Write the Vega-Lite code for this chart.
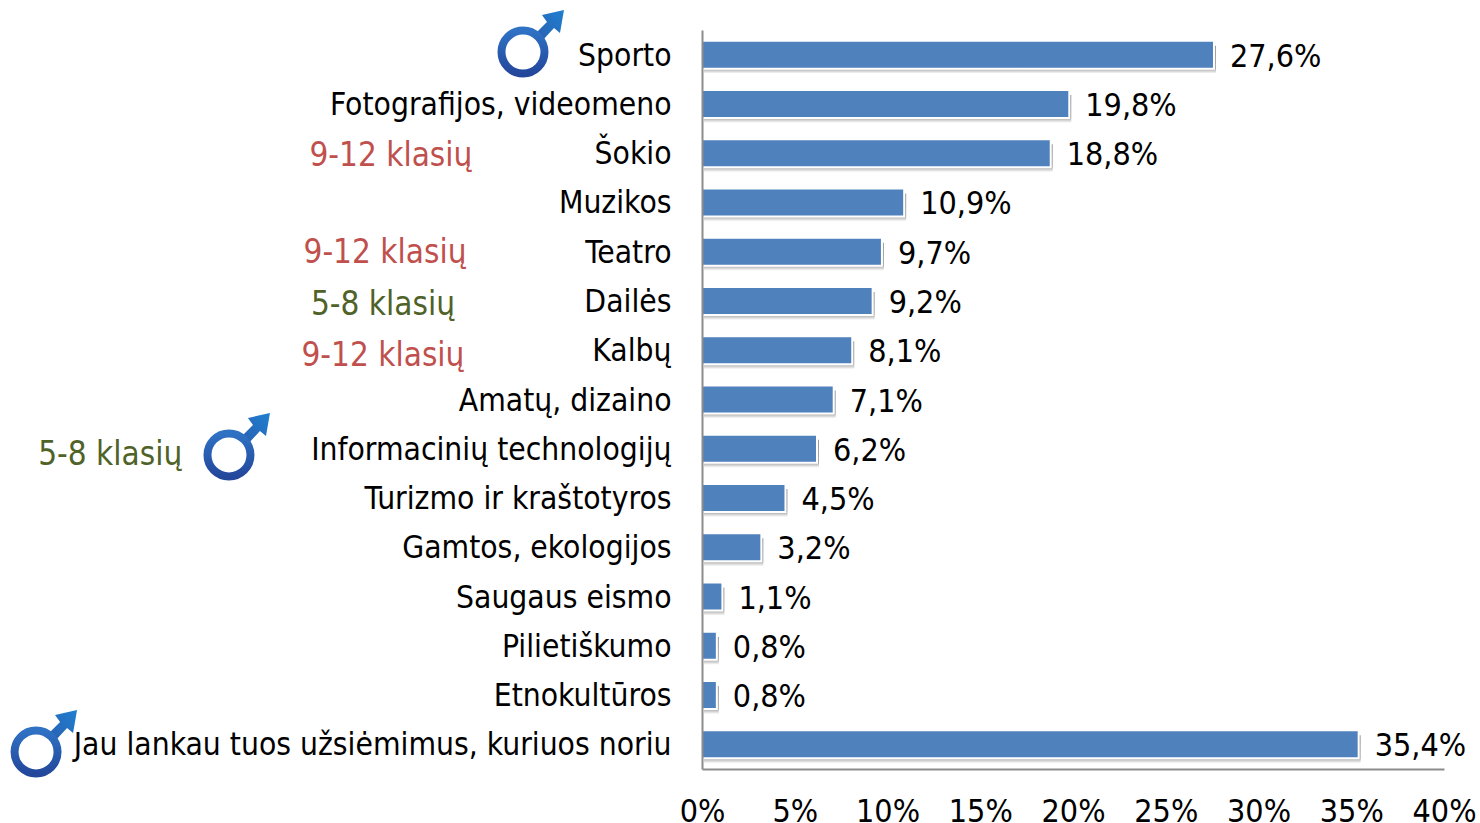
{
"$schema":"https://vega.github.io/schema/vega-lite/v6.json",
"width":742,"height":739,
"autosize":{"type":"none"},
"padding":{"left":702,"top":30,"right":36,"bottom":54},
"background":"white",
"config":{"view":{"stroke":null},"font":"DejaVu Sans Condensed"},
"datasets":{
"bars":[
{"name":"Sporto","value":27.6,"label":"27,6%"},
{"name":"Fotografijos, videomeno","value":19.8,"label":"19,8%"},
{"name":"Šokio","value":18.8,"label":"18,8%"},
{"name":"Muzikos","value":10.9,"label":"10,9%"},
{"name":"Teatro","value":9.7,"label":"9,7%"},
{"name":"Dailės\u00a0","value":9.2,"label":"9,2%"},
{"name":"Kalbų","value":8.1,"label":"8,1%"},
{"name":"Amatų, dizaino","value":7.1,"label":"7,1%"},
{"name":"Informacinių technologijų","value":6.2,"label":"6,2%"},
{"name":"Turizmo ir kraštotyros","value":4.5,"label":"4,5%"},
{"name":"Gamtos, ekologijos","value":3.2,"label":"3,2%"},
{"name":"Saugaus eismo","value":1.1,"label":"1,1%"},
{"name":"Pilietiškumo","value":0.8,"label":"0,8%"},
{"name":"Etnokultūros","value":0.8,"label":"0,8%"},
{"name":"Jau lankau tuos užsiėmimus, kuriuos noriu","value":35.4,"label":"35,4%"}
],
"notes":[
{"text":"9-12 klasių","x":-16.77,"pos":2.517,"group":"9-12"},
{"text":"9-12 klasių","x":-17.09,"pos":4.485,"group":"9-12"},
{"text":"5-8 klasių","x":-17.2,"pos":5.541,"group":"5-8"},
{"text":"9-12 klasių","x":-17.2,"pos":6.576,"group":"9-12"},
{"text":"5-8 klasių","x":-31.9,"pos":8.585,"group":"5-8"}
],
"males":[
{"x":-9.65,"pos":0.447},
{"x":-25.5,"pos":8.626},
{"x":-35.9,"pos":14.654}
]
},
"resolve":{"scale":{"y":"independent"}},
"layer":[
{"data":{"name":"bars"},
 "mark":{"type":"bar","size":28,"yOffset":5,"xOffset":2,"fill":{"gradient":"linear","x1":0,"y1":0,"x2":0,"y2":1,"stops":[{"offset":0,"color":"#999999"},{"offset":0.82,"color":"#a8a8a8"},{"offset":1,"color":"#ffffff"}]}},
 "encoding":{
  "x":{"field":"value","type":"quantitative","scale":{"domain":[0,40]},
   "axis":{"title":null,"values":[0,5,10,15,20,25,30,35,40],"labelExpr":"datum.value+'%'","grid":false,"ticks":false,"domainColor":"#8c8c8c","domainWidth":2,"labelFontSize":32,"labelColor":"#000000","labelPadding":27,"labelOverlap":false,"labelBound":false,"labelFlush":false}},
  "y":{"field":"name","type":"nominal","sort":null,"scale":{"domain":["Sporto","Fotografijos, videomeno","Šokio","Muzikos","Teatro","Dailės\u00a0","Kalbų","Amatų, dizaino","Informacinių technologijų","Turizmo ir kraštotyros","Gamtos, ekologijos","Saugaus eismo","Pilietiškumo","Etnokultūros","Jau lankau tuos užsiėmimus, kuriuos noriu"]},"axis":null}
 }},
{"data":{"name":"bars"},
 "mark":{"type":"bar","size":28,"fill":"#4f81bd","stroke":"white","strokeWidth":2},
 "encoding":{
  "x":{"field":"value","type":"quantitative"},
  "y":{"field":"name","type":"nominal","sort":null,"scale":{"domain":["Sporto","Fotografijos, videomeno","Šokio","Muzikos","Teatro","Dailės\u00a0","Kalbų","Amatų, dizaino","Informacinių technologijų","Turizmo ir kraštotyros","Gamtos, ekologijos","Saugaus eismo","Pilietiškumo","Etnokultūros","Jau lankau tuos užsiėmimus, kuriuos noriu"]},
   "axis":{"title":null,"ticks":false,"domainColor":"#8c8c8c","domainWidth":2,"labelFontSize":31.5,"labelColor":"#000000","labelPadding":31,"labelOffset":2,"labelLimit":0,"labelOverlap":false,"zindex":1}}
 }},
{"data":{"name":"bars"},
 "mark":{"type":"text","align":"left","baseline":"middle","dx":16,"dy":2,"fontSize":32,"color":"#000000"},
 "encoding":{
  "x":{"field":"value","type":"quantitative"},
  "y":{"field":"name","type":"nominal","sort":null,"scale":{"domain":["Sporto","Fotografijos, videomeno","Šokio","Muzikos","Teatro","Dailės\u00a0","Kalbų","Amatų, dizaino","Informacinių technologijų","Turizmo ir kraštotyros","Gamtos, ekologijos","Saugaus eismo","Pilietiškumo","Etnokultūros","Jau lankau tuos užsiėmimus, kuriuos noriu"]},"axis":null},
  "text":{"field":"label"}
 }},
{"data":{"name":"notes"},
 "mark":{"type":"text","align":"center","baseline":"middle","dy":2,"fontSize":33},
 "encoding":{
  "x":{"field":"x","type":"quantitative"},
  "y":{"field":"pos","type":"quantitative","scale":{"domain":[0,15],"reverse":true},"axis":null},
  "text":{"field":"text"},
  "color":{"field":"group","type":"nominal","scale":{"domain":["9-12","5-8"],"range":["#c0504d","#4f6228"]},"legend":null}
 }},
{"data":{"name":"males"},
 "mark":{"type":"point","filled":true,"size":40000,"strokeWidth":0,"shape":"M 0.12 -0.18 L 0.24 -0.30 L 0.19 -0.37 L 0.41 -0.42 L 0.37 -0.19 L 0.31 -0.24 L 0.19 -0.11 Z","fill":{"gradient":"linear","x1":0,"y1":1,"x2":1,"y2":0,"stops":[{"offset":0,"color":"#2a5fb0"},{"offset":1,"color":"#1f7fd0"}]},"opacity":1},
 "encoding":{
  "x":{"field":"x","type":"quantitative"},
  "y":{"field":"pos","type":"quantitative","scale":{"domain":[0,15],"reverse":true},"axis":null}
 }},
{"data":{"name":"males"},
 "mark":{"type":"point","shape":"circle","filled":false,"size":1849,"strokeWidth":8,"opacity":1,"stroke":{"gradient":"linear","x1":0,"y1":0,"x2":0,"y2":1,"stops":[{"offset":0,"color":"#2f72c4"},{"offset":1,"color":"#23479b"}]}},
 "encoding":{
  "x":{"field":"x","type":"quantitative"},
  "y":{"field":"pos","type":"quantitative","scale":{"domain":[0,15],"reverse":true},"axis":null}
 }}
]
}
